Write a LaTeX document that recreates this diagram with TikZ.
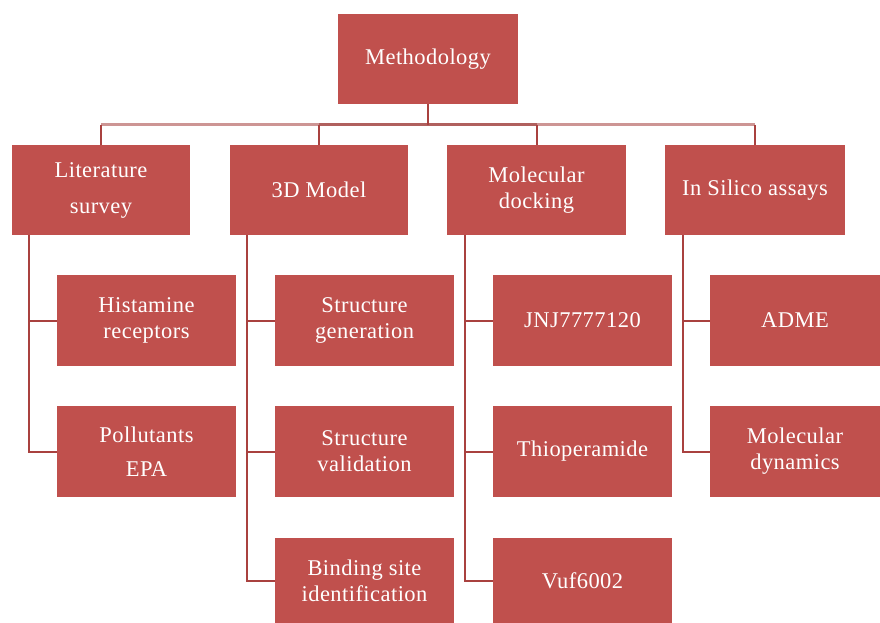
\documentclass[tikz,border=0pt]{standalone}
\usepackage{fontspec}
\setmainfont{Liberation Serif}[LetterSpace=2]
\definecolor{boxred}{HTML}{C0504D}
\definecolor{linered}{HTML}{A9413F}
\definecolor{buslight}{HTML}{CD9594}
\definecolor{busdark}{HTML}{B0605E}
\begin{document}
\begin{tikzpicture}[x=1pt,y=-1pt,
  box/.style={fill=boxred,draw=none,text=white,align=center,minimum width=179pt,minimum height=91pt,inner sep=0pt,font=\fontsize{22.5}{26}\selectfont},
  wire/.style={draw=linered,line width=2pt},
  buswire/.style={draw=buslight,line width=3pt}]
\useasboundingbox (0,0) rectangle (880,623);
\node[box,minimum width=180pt,minimum height=90pt] (meth) at (428,59) {Methodology};
\node[box,minimum width=178pt,minimum height=90pt] (lit) at (101,190) {Literature\\[10pt]survey};
\node[box,minimum width=178pt,minimum height=90pt] (d3) at (319,190) {3D Model};
\node[box,minimum width=179pt,minimum height=90pt] (dock) at (536.5,190) {Molecular\\docking};
\node[box,minimum width=180pt,minimum height=90pt] (sil) at (755,190) {In Silico assays};
\node[box] (hist) at (146.5,320.5) {Histamine\\receptors};
\node[box] (poll) at (146.5,451.5) {Pollutants\\[8pt]EPA};
\node[box] (sgen) at (364.5,320.5) {Structure\\generation};
\node[box] (sval) at (364.5,451.5) {Structure\\validation};
\node[box,minimum height=85pt] (bind) at (364.5,580.5) {Binding site\\identification};
\node[box] (jnj) at (582.5,320.5) {JNJ7777120};
\node[box] (thio) at (582.5,451.5) {Thioperamide};
\node[box,minimum height=85pt] (vuf) at (582.5,580.5) {Vuf6002};
\node[box,minimum width=170pt] (adme) at (795,320.5) {ADME};
\node[box,minimum width=170pt] (md) at (795,451.5) {Molecular\\dynamics};
% top-level bus
\coordinate (bus) at (428,125);
\draw[buswire] (lit.north |- bus) -- (sil.north |- bus);
\draw[draw=busdark,line width=3pt] (d3.north |- bus) -- (dock.north |- bus);
\draw[wire] (meth.south) -- (bus);
\foreach \n in {lit,d3,dock,sil} \draw[wire] (\n.north |- bus) -- (\n.north);
% child connectors
\draw[wire] ([xshift=17pt]lit.south west) |- (poll.west);
\draw[wire] ([xshift=17pt]lit.south west |- hist.west) -- (hist.west);
\draw[wire] ([xshift=17pt]d3.south west) |- (bind.west);
\draw[wire] ([xshift=17pt]d3.south west |- sgen.west) -- (sgen.west);
\draw[wire] ([xshift=17pt]d3.south west |- sval.west) -- (sval.west);
\draw[wire] ([xshift=18pt]dock.south west) |- (vuf.west);
\draw[wire] ([xshift=18pt]dock.south west |- jnj.west) -- (jnj.west);
\draw[wire] ([xshift=18pt]dock.south west |- thio.west) -- (thio.west);
\draw[wire] ([xshift=18pt]sil.south west) |- (md.west);
\draw[wire] ([xshift=18pt]sil.south west |- adme.west) -- (adme.west);
\end{tikzpicture}
\end{document}
